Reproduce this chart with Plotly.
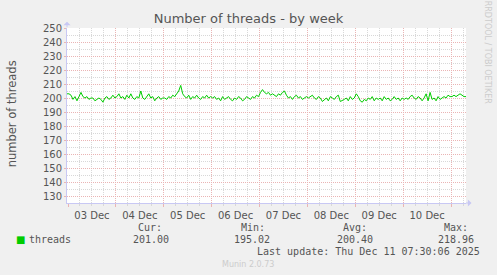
import plotly.graph_objects as go
import pandas as pd

# ---- data (hourly samples) ----
start_time = "2025-12-02 23:30"
end_time = "2025-12-11 07:30"
threads_dec2 = [203]
threads_dec3 = [203, 202, 199, 201, 198, 201, 204, 201, 200, 201, 199, 200, 200, 198, 199, 200, 199, 197, 200, 201, 199, 200, 202, 200]
threads_dec4 = [201, 203, 200, 201, 199, 202, 200, 203, 200, 199, 201, 200, 205, 200, 199, 201, 203, 200, 201, 198, 200, 201, 199, 200]
threads_dec5 = [200, 199, 201, 200, 202, 201, 203, 205, 209, 203, 201, 200, 202, 199, 201, 200, 202, 200, 199, 201, 200, 202, 200, 201]
threads_dec6 = [200, 201, 199, 200, 198, 201, 199, 200, 201, 199, 198, 200, 199, 201, 200, 198, 199, 201, 200, 199, 201, 200, 202, 201]
threads_dec7 = [204, 206, 204, 203, 204, 202, 203, 202, 201, 203, 202, 204, 205, 202, 200, 201, 199, 201, 202, 200, 201, 199, 200, 201]
threads_dec8 = [200, 201, 202, 200, 199, 201, 200, 197.5, 199, 200, 198, 201, 200, 199, 201, 202, 197.5, 198, 199, 200, 198, 201, 199, 200]
threads_dec9 = [203, 201, 198, 197, 199, 198, 200, 199, 201, 198, 200, 199, 200, 198, 201, 199, 200, 198, 199, 201, 199, 200, 198, 200]
threads_dec10 = [199, 200, 199, 201, 202, 200, 199, 201, 200, 198, 200, 203, 198, 204, 199, 200, 198, 201, 199, 200, 201, 200, 202, 201]
threads_dec11 = [201, 202, 201, 202, 203, 202, 201, 201]

threads = (threads_dec2 + threads_dec3 + threads_dec4 + threads_dec5 + threads_dec6
           + threads_dec7 + threads_dec8 + threads_dec9 + threads_dec10 + threads_dec11)
times = pd.date_range(start=start_time, periods=len(threads), freq="h")

legend_name = "threads"
stat_labels = ["Cur:", "Min:", "Avg:", "Max:"]
stat_values = ["201.00", "195.02", "200.40", "218.96"]
last_update = "Last update: Thu Dec 11 07:30:06 2025"

# ---- layout geometry ----
W, H = 497, 275
L, T = 66.5, 28.3
PW, PH = 400, 175
R = W - L - PW
B = H - T - PH

def px(x):
    return (x - L) / PW

def py(y):
    return (T + PH - y) / PH

GREEN = "#00cc00"
MAJOR = "#eab4b4"
MINOR = "#d8d8d8"
AXIS = "#c8c8f4"
TXT = "#555555"

fig = go.Figure()
fig.add_trace(go.Scatter(x=times, y=threads, mode="lines",
                         line=dict(color=GREEN, width=1), name=legend_name,
                         showlegend=False, hoverinfo="skip"))

fig.update_layout(
    width=W, height=H,
    margin=dict(l=L, r=R, t=T, b=B),
    paper_bgcolor="#f0f0f0", plot_bgcolor="#ffffff",
    showlegend=False,
    title=dict(text="Number of threads - by week", x=0.5, xanchor="center",
               y=1 - 18 / H, yanchor="middle",
               font=dict(family="DejaVu Sans", size=13, color=TXT)),
    font=dict(family="DejaVu Sans", size=10, color=TXT),
)

fig.update_xaxes(
    type="date", range=[start_time, end_time],
    tick0="2025-12-03", dtick=86400000, ticklabelmode="period",
    tickformat="%d %b", tickfont=dict(family="DejaVu Sans", size=10, color=TXT),
    showgrid=True, gridcolor=MAJOR, griddash="1px,1px", gridwidth=1,
    ticks="outside", ticklen=3, tickcolor=MAJOR,
    showline=True, linecolor=AXIS, linewidth=1,
    zeroline=False,
    minor=dict(dtick=21600000, tick0="2025-12-03", showgrid=True,
               gridcolor=MINOR, griddash="1px,1px", ticks="outside",
               ticklen=2, tickcolor=MINOR),
)
fig.update_yaxes(
    range=[125, 250], tick0=0, dtick=10,
    tickfont=dict(family="DejaVu Sans", size=10, color=TXT),
    showgrid=True, gridcolor=MAJOR, griddash="1px,1px", gridwidth=1,
    ticks="outside", ticklen=2, tickcolor=MAJOR,
    showline=True, linecolor=AXIS, linewidth=1, zeroline=False,
    minor=dict(dtick=5, showgrid=True, gridcolor=MINOR, griddash="1px,1px", ticks=""),
)

ann = []
# y axis title
ann.append(dict(xref="paper", yref="paper", x=px(11), y=py(114), xanchor="center",
                yanchor="middle", text="number of threads", showarrow=False,
                textangle=-90, font=dict(family="DejaVu Sans", size=11.5, color=TXT)))
# axis arrows
ann.append(dict(xref="paper", yref="paper", x=0, y=py(22), ax=0, ay=7,
                showarrow=True, arrowhead=1, arrowsize=1.2, arrowwidth=1,
                arrowcolor=AXIS, text=""))
ann.append(dict(xref="paper", yref="paper", x=px(472), y=0, ax=-7, ay=0,
                showarrow=True, arrowhead=1, arrowsize=1.2, arrowwidth=1,
                arrowcolor=AXIS, text=""))

MONO = dict(family="DejaVu Sans Mono", size=10, color=TXT)
# legend swatch and name
ann.append(dict(xref="paper", yref="paper", x=px(13), y=py(239.8), xanchor="left",
                yanchor="middle", text="■", showarrow=False,
                font=dict(family="DejaVu Sans", size=10, color=GREEN)))
ann.append(dict(xref="paper", yref="paper", x=px(26), y=py(239.5), xanchor="left",
                yanchor="middle", text=legend_name, showarrow=False, font=MONO))
label_right = [163.5, 266.5, 369, 470.5]
value_right = [170.5, 272.5, 375.5, 477]
for lab, val, lr, vr in zip(stat_labels, stat_values, label_right, value_right):
    ann.append(dict(xref="paper", yref="paper", x=px(lr), y=py(227.5), xanchor="right",
                    yanchor="middle", text=lab, showarrow=False, font=MONO))
    ann.append(dict(xref="paper", yref="paper", x=px(vr), y=py(239.5), xanchor="right",
                    yanchor="middle", text=val, showarrow=False, font=MONO))
ann.append(dict(xref="paper", yref="paper", x=px(483), y=py(251.7), xanchor="right",
                yanchor="middle", text=last_update, showarrow=False, font=MONO))
ann.append(dict(xref="paper", yref="paper", x=px(248), y=py(264.5), xanchor="center",
                yanchor="middle", text="Munin 2.0.73", showarrow=False,
                font=dict(family="DejaVu Sans", size=8, color="#cccccc")))
ann.append(dict(xref="paper", yref="paper", x=px(487.5), y=py(53), xanchor="center",
                yanchor="middle", text="RRDTOOL / TOBI OETIKER", showarrow=False,
                textangle=90, font=dict(family="DejaVu Sans", size=8, color="#cccccc")))
fig.update_layout(annotations=ann)

fig.write_html("out.html")
